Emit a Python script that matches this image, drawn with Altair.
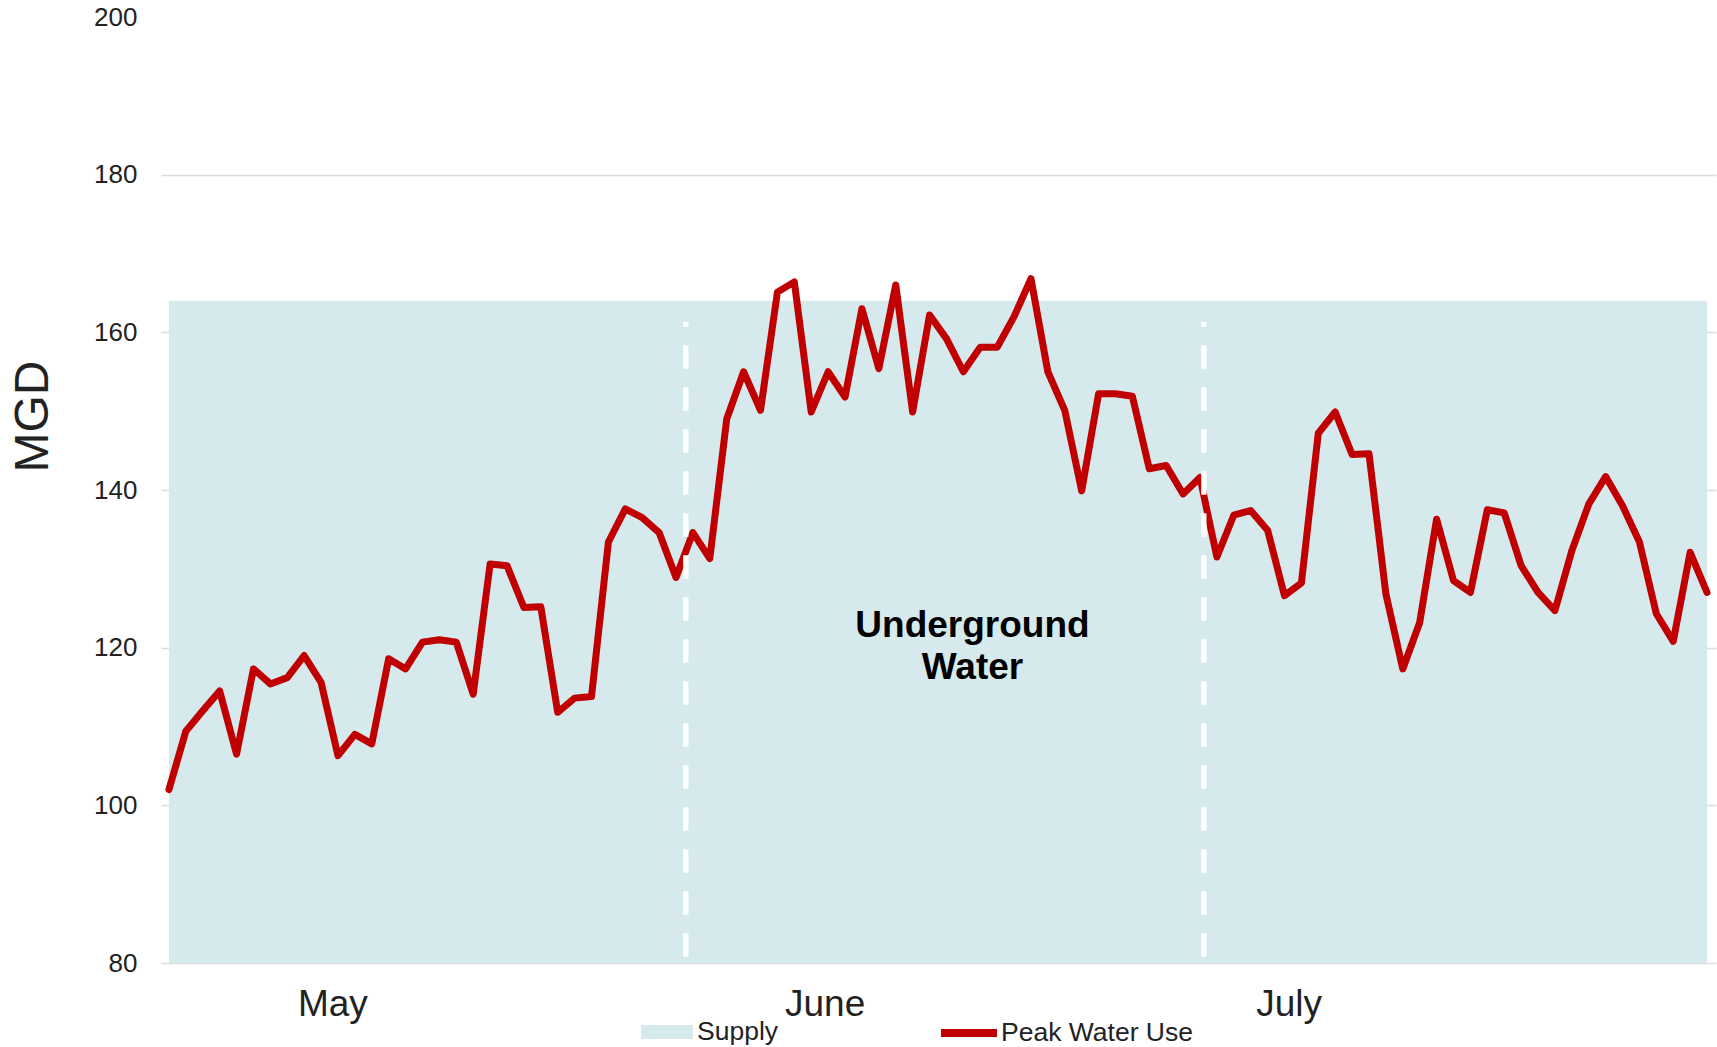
import json
import altair as alt
import pandas as pd

# ---------------- data ----------------
day = list(range(92))  # May 1 .. July 31
peak = [102.0, 109.4, 112.0, 114.5, 106.5, 117.3, 115.4, 116.2, 119.0, 115.6,
        106.3, 109.0, 107.8, 118.6, 117.3, 120.7, 121.0, 120.7, 114.1, 130.6,
        130.4, 125.1, 125.2, 111.8, 113.6, 113.8, 133.4, 137.6, 136.5, 134.6,
        128.9, 134.6, 131.3, 149.0, 155.0, 150.1, 165.1, 166.4, 149.9, 155.0,
        151.8, 163.0, 155.4, 166.0, 149.9, 162.2, 159.2, 155.0, 158.1, 158.1,
        162.0, 166.8, 155.0, 150.1, 139.9, 152.2, 152.2, 151.9, 142.7, 143.1,
        139.5, 141.6, 131.5, 136.8, 137.4, 134.9, 126.6, 128.2, 147.2, 149.9,
        144.5, 144.6, 126.8, 117.3, 123.2, 136.3, 128.5, 127.0, 137.5, 137.1,
        130.4, 127.0, 124.7, 132.3, 138.2, 141.7, 138.0, 133.4, 124.3, 120.8,
        132.1, 127.0]
supply_level = 164
supply_label = "Supply"
use_label = "Peak Water Use"
month_names = ["May", "June", "July"]
month_label_pos = [9.67, 38.79, 66.24]
month_boundaries = [30.58, 61.23]
boundary_top = 161.3
y_ticks = [80, 100, 120, 140, 160, 180, 200]
note_text = "Underground\nWater"
note_x = 47.54
note_y = 121.4

FONT = "Liberation Sans"
TXT = "#222222"
X_DOMAIN = [-0.47, 91.53]
Y_DOMAIN = [80, 200]

line_df = pd.DataFrame({"day": day, "mgd": peak, "use": use_label})
supply_df = pd.DataFrame({"start": [day[0]], "end": [day[-1]],
                          "low": [Y_DOMAIN[0]], "high": [supply_level],
                          "supply": [supply_label]})
rule_df = pd.DataFrame({"bx": month_boundaries,
                        "lo": [Y_DOMAIN[0]] * len(month_boundaries),
                        "hi": [boundary_top] * len(month_boundaries)})
note_df = pd.DataFrame({"nx": [note_x], "ny": [note_y], "txt": [note_text]})

xscale = alt.Scale(domain=X_DOMAIN, nice=False, zero=False)
yscale = alt.Scale(domain=Y_DOMAIN, nice=False, zero=False)

label_expr = "%s[indexof(%s, datum.value)]" % (json.dumps(month_names), json.dumps(month_label_pos))

x_axis = alt.Axis(values=month_label_pos, labelExpr=label_expr, title=None,
                  domain=False, ticks=False, tickSize=0, grid=False,
                  labelFont=FONT, labelFontSize=37, labelColor=TXT,
                  labelPadding=52, labelBaseline="alphabetic",
                  labelFlush=False, labelOverlap=False, labelBound=False)
y_axis = alt.Axis(values=y_ticks, title="MGD", domain=False, ticks=False, tickSize=0,
                  grid=True,
                  gridColor={"condition": {"test": "datum.value === 200", "value": "transparent"},
                             "value": "#dcdcdc"},
                  gridWidth=1.5,
                  labelFont=FONT, labelFontSize=26, labelColor=TXT, labelPadding=24,
                  titleFont=FONT, titleFontSize=48, titleFontWeight="normal", titleColor=TXT,
                  titleAngle=270, titleAlign="center", titleBaseline="middle",
                  titleX=-128, titleY=399)

supply = alt.Chart(supply_df).mark_rect(color="#d6eaed").encode(
    x=alt.X("start:Q", scale=xscale, axis=x_axis),
    x2="end:Q",
    y=alt.Y("low:Q", scale=yscale, axis=y_axis),
    y2="high:Q",
    fill=alt.Fill("supply:N",
                  scale=alt.Scale(domain=[supply_label], range=["#d6eaed"]),
                  legend=alt.Legend(title=None, orient="none", legendX=480, legendY=989,
                                    padding=0, symbolType="M-1,-0.27H1V0.27H-1Z",
                                    symbolSize=2673, symbolStrokeWidth=0,
                                    labelFont=FONT, labelFontSize=26.5, labelColor=TXT,
                                    labelOffset=4, labelLimit=400)),
)

line = alt.Chart(line_df).mark_line(strokeWidth=7, strokeCap="round", strokeJoin="round").encode(
    x=alt.X("day:Q", scale=xscale, axis=x_axis),
    y=alt.Y("mgd:Q", scale=yscale, axis=y_axis),
    stroke=alt.Stroke("use:N",
                      scale=alt.Scale(domain=[use_label], range=["#c00000"]),
                      legend=alt.Legend(title=None, orient="none", legendX=776, legendY=984,
                                        padding=0, symbolType="stroke", symbolSize=3136,
                                        symbolStrokeWidth=8,
                                        labelFont=FONT, labelFontSize=26.5, labelColor=TXT,
                                        labelOffset=0, labelLimit=400)),
)

rules = alt.Chart(rule_df).mark_rule(color="white", strokeWidth=5.3,
                                     strokeDash=[23.5, 18.5], strokeDashOffset=35.7).encode(
    x=alt.X("bx:Q", scale=xscale, axis=x_axis),
    y=alt.Y("lo:Q", scale=yscale, axis=y_axis),
    y2="hi:Q",
)

note = alt.Chart(note_df).mark_text(font=FONT, fontSize=37, fontWeight="bold", color="#000000",
                                    lineBreak="\n", align="center", baseline="alphabetic",
                                    lineHeight=42.6).encode(
    x=alt.X("nx:Q", scale=xscale, axis=x_axis),
    y=alt.Y("ny:Q", scale=yscale, axis=y_axis),
    text="txt:N",
)

chart = alt.layer(supply, line, rules, note).resolve_legend(fill="independent", stroke="independent").properties(
    width=1555, height=946,
    autosize=alt.AutoSizeParams(type="none"),
    padding={"left": 161, "top": 17, "right": 1, "bottom": 84},
    background="white",
).configure_view(stroke=None)

chart.save("out.html", embed_options={"renderer": "svg", "actions": False})
